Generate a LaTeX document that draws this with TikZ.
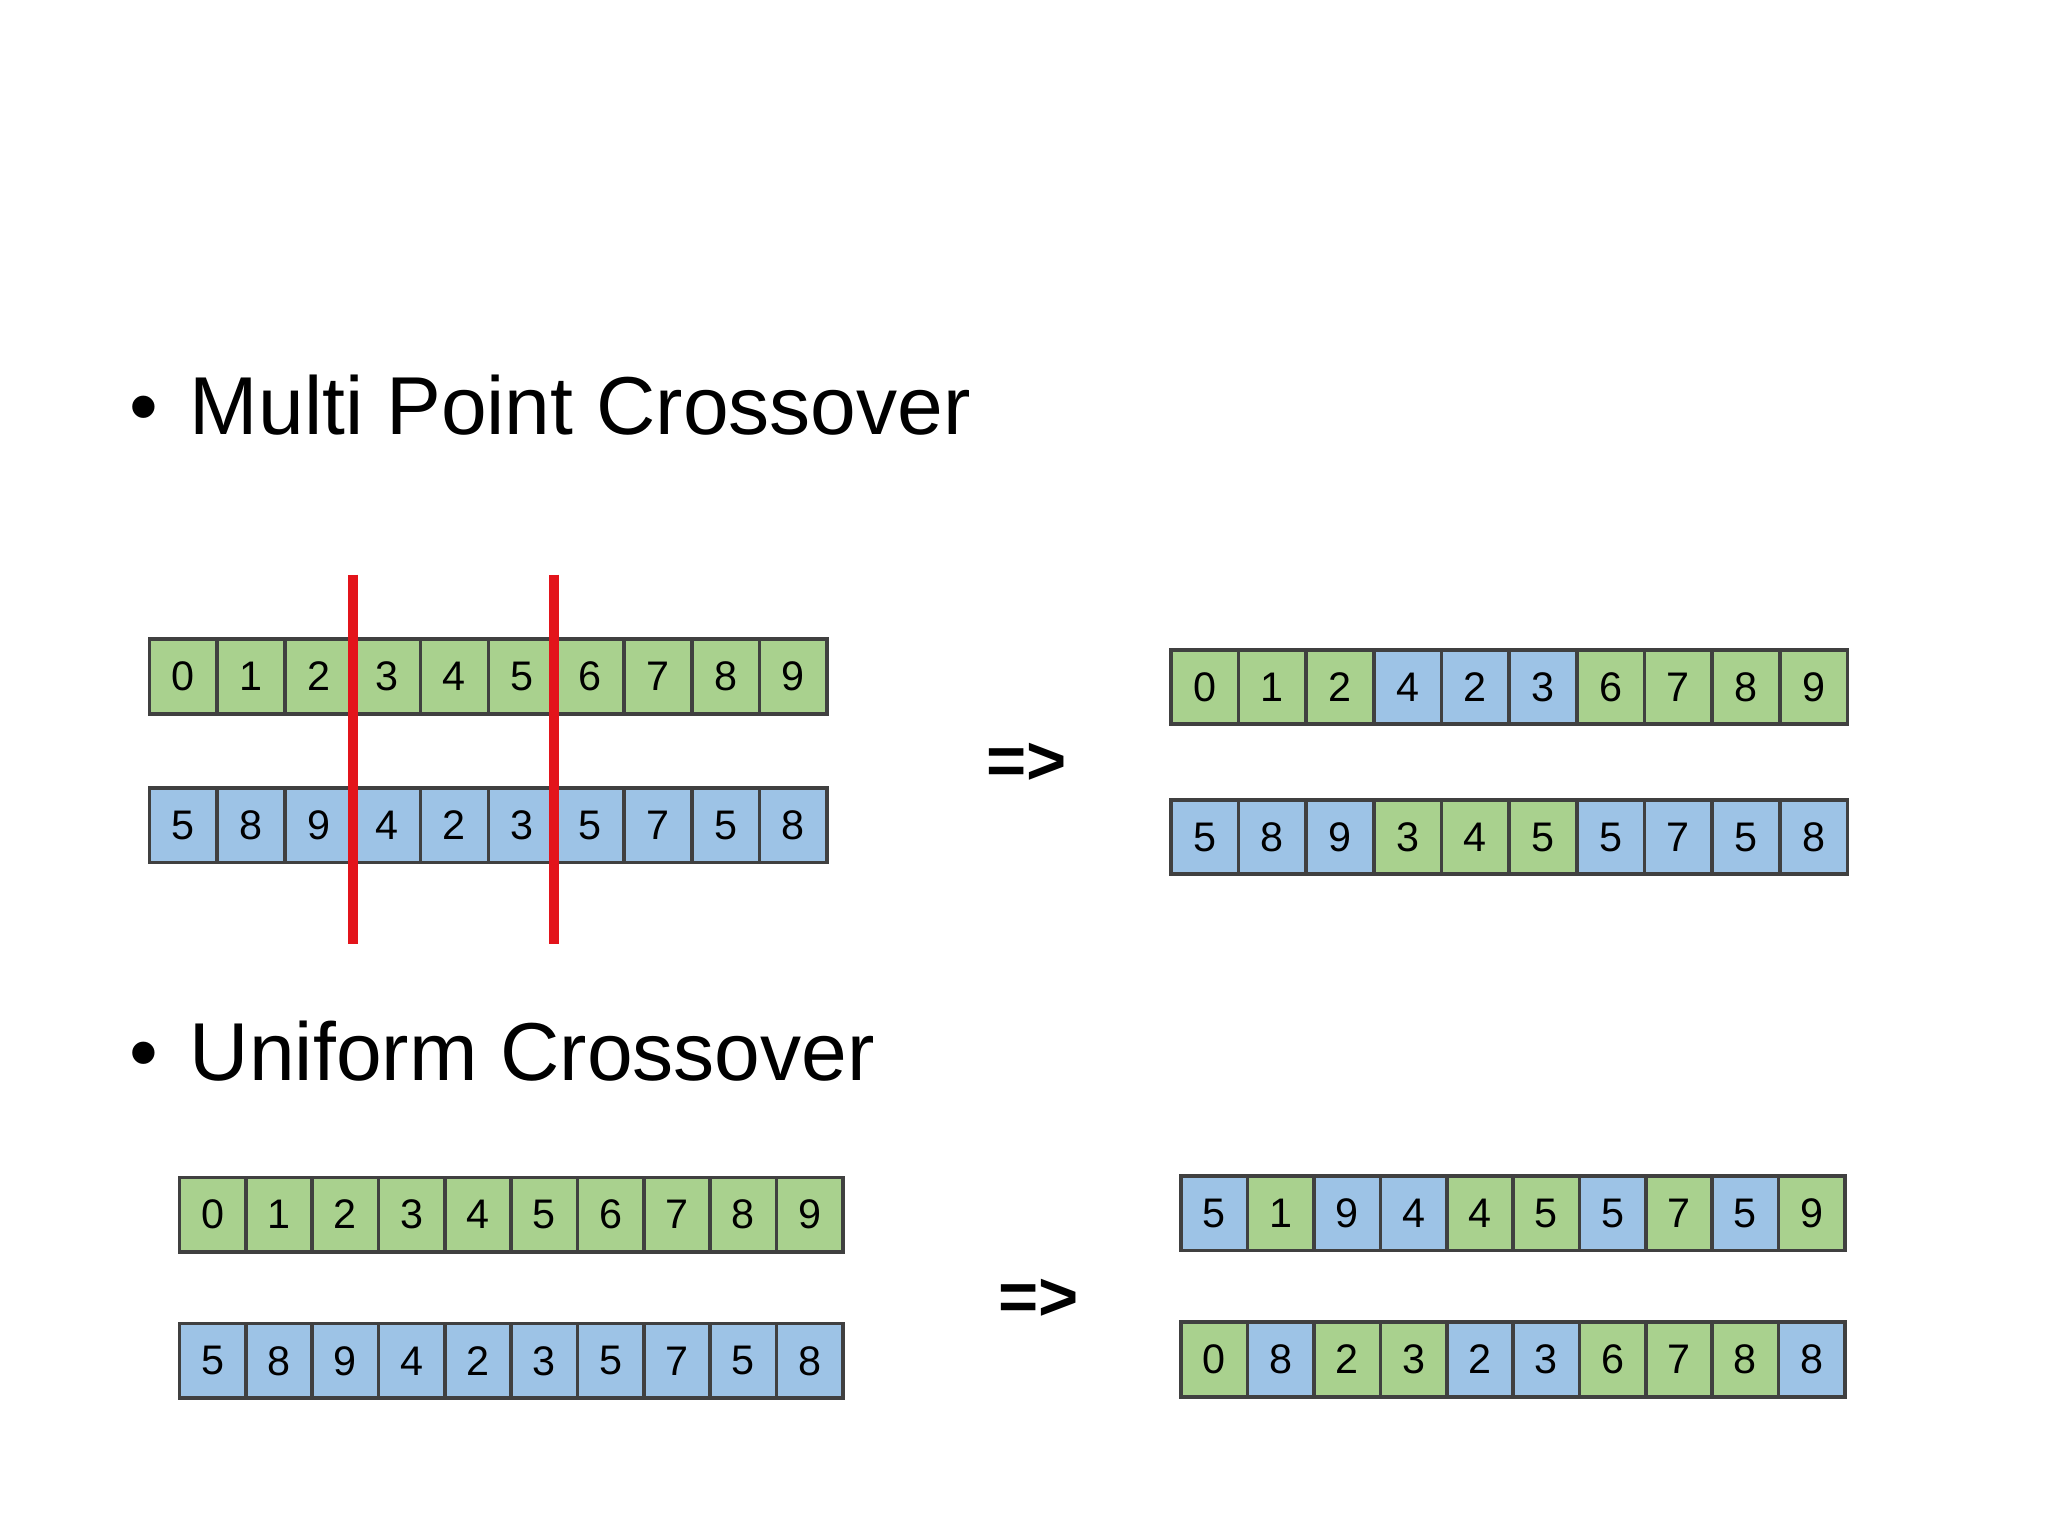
\documentclass[tikz,border=0pt]{standalone}
\usepackage{fontspec}
\setmainfont{Liberation Sans}
\definecolor{gc}{HTML}{A9D18E}
\definecolor{bc}{HTML}{9DC3E6}
\definecolor{rl}{HTML}{E3141B}
\tikzset{
 cell/.style={draw=black!75,line width=0.8pt,minimum width=0.519cm,minimum height=0.57cm,inner sep=0pt,anchor=north west,font=\fontsize{9}{10}\selectfont},
 g/.style={cell,fill=gc}, b/.style={cell,fill=bc},
 title/.style={anchor=west,font=\fontsize{17.9}{20}\selectfont},
 arr/.style={font=\fontsize{15}{16}\selectfont\bfseries}
}
% \crow{name}{x0}{y0}{width}{list of color/digit}
\newcommand{\crow}[5]{%
 \foreach [count=\i from 0] \c/\d in {#5}{%
  \node[\c,minimum width=#4cm] (#1\i) at ({#2+\i*#4},{#3}) {\d};}}
\begin{document}
\begin{tikzpicture}[yscale=-1]
\useasboundingbox (0,0) rectangle (15.68,11.76);
\node[title] (t1) at (0.87,3.10) {•\hspace{0.24cm}Multi Point Crossover};
\node[title] (t2) at (0.87,8.05) {•\hspace{0.24cm}Uniform Crossover};
\crow{a}{1.13}{4.88}{0.519}{g/0,g/1,g/2,g/3,g/4,g/5,g/6,g/7,g/8,g/9}
\crow{b}{1.13}{6.02}{0.519}{b/5,b/8,b/9,b/4,b/2,b/3,b/5,b/7,b/5,b/8}
\crow{c}{8.95}{4.96}{0.518}{g/0,g/1,g/2,b/4,b/2,b/3,g/6,g/7,g/8,g/9}
\crow{d}{8.95}{6.11}{0.518}{b/5,b/8,b/9,g/3,g/4,g/5,b/5,b/7,b/5,b/8}
\coordinate (r1t) at (2.70,4.40); \coordinate (r1b) at (2.70,7.23);
\coordinate (r2t) at (4.24,4.40); \coordinate (r2b) at (4.24,7.23);
\draw[rl,line width=2.2pt] (r1t) -- (r1b);
\draw[rl,line width=2.2pt] (r2t) -- (r2b);
\node[arr] (m1) at (7.86,5.85) {=>};
\crow{e}{1.36}{9.00}{0.508}{g/0,g/1,g/2,g/3,g/4,g/5,g/6,g/7,g/8,g/9}
\crow{f}{1.36}{10.12}{0.508}{b/5,b/8,b/9,b/4,b/2,b/3,b/5,b/7,b/5,b/8}
\crow{h}{9.03}{8.99}{0.508}{b/5,g/1,b/9,b/4,g/4,g/5,b/5,g/7,b/5,g/9}
\crow{k}{9.03}{10.11}{0.508}{g/0,b/8,g/2,g/3,b/2,b/3,g/6,g/7,g/8,b/8}
\node[arr] (m2) at (7.95,9.95) {=>};
\end{tikzpicture}
\end{document}
